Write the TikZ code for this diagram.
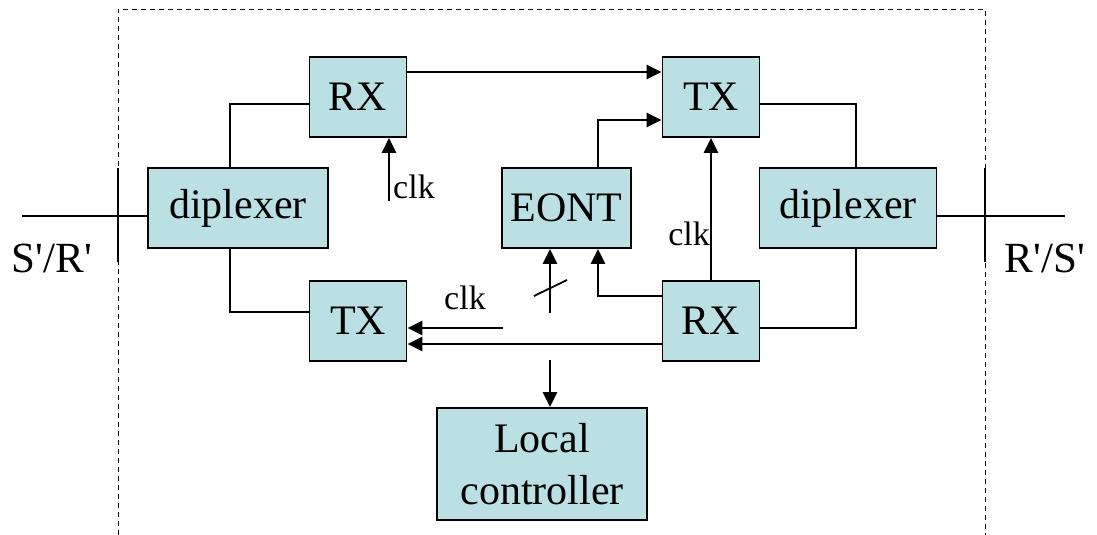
\documentclass[tikz,border=0pt]{standalone}
\usepackage{fontspec}
\setmainfont{Liberation Serif}[Ligatures=TeXOff]
\usetikzlibrary{arrows.meta}
\definecolor{boxfill}{RGB}{187,224,227}
\begin{document}
\begin{tikzpicture}[x=1pt,y=-1pt,
  blk/.style={draw=black,fill=boxfill,line width=1.8pt,inner sep=0pt,
    font=\fontsize{42}{52}\selectfont,align=center},
  wire/.style={line width=1.8pt},
  arr/.style={line width=2.8pt,-{Triangle[length=15pt,width=14pt]}},
  lbl/.style={font=\fontsize{34}{40}\selectfont,inner sep=0pt},
  big/.style={font=\fontsize{43}{50}\selectfont,inner sep=0pt},
  frame/.style={line width=0.9pt,dash pattern=on 5pt off 4pt}]
\useasboundingbox (0,0) rectangle (1097,535);
% frame
\coordinate (fbl) at (118,535);
\coordinate (ftl) at (118,9);
\coordinate (ftr) at (985,9);
\coordinate (fbr) at (985,535);
\draw[frame] (fbl) -- (ftl) -- (ftr) -- (fbr);
% blocks
\node[blk,minimum width=180pt,minimum height=80pt] (dipL) at (238,208) {diplexer};
\node[blk,minimum width=177pt,minimum height=80pt] (dipR) at (848,208) {diplexer};
\node[blk,minimum width=97pt,minimum height=80pt] (rxT) at (358,97) {RX};
\node[blk,minimum width=97pt,minimum height=80pt] (txT) at (711,97) {TX};
\node[blk,minimum width=129pt,minimum height=80pt] (eont) at (566.5,208) {EONT};
\node[blk,minimum width=97pt,minimum height=80pt] (txB) at (358,321) {TX};
\node[blk,minimum width=97pt,minimum height=80pt] (rxB) at (711,321) {RX};
\node[blk,minimum width=210pt,minimum height=112pt] (lc) at (542,464) {Local\\controller};
% outer ports
\coordinate (inL) at (22,216);
\coordinate (inR) at (1065,216);
\draw[wire] (inL) -- (inL -| dipL.west);
\draw[wire] (inR) -- (inR -| dipR.east);
\coordinate (tkLt) at (118,168);
\coordinate (tkLb) at (118,262);
\coordinate (tkRt) at (985,168);
\coordinate (tkRb) at (985,262);
\draw[wire] (tkLt) -- (tkLb);
\draw[wire] (tkRt) -- (tkRb);
\node[big,anchor=base] (sr) at (52,272) {S'/R'};
\node[big,anchor=base] (rs) at (1045,272) {R'/S'};
% plain connectors
\draw[wire] ([xshift=-8pt]dipL.north) |- ([yshift=-7pt]rxT.west);
\draw[wire] ([xshift=-8pt]dipL.south) |- ([yshift=9pt]txB.west);
\draw[wire] ([yshift=-7pt]txT.east) -| ([xshift=8pt]dipR.north);
\draw[wire] ([yshift=-7pt]rxB.east) -| ([xshift=8pt]dipR.south);
% arrows
\draw[arr] ([yshift=25pt]rxT.east) -- ([yshift=25pt]txT.west);
\draw[arr] ([xshift=31.5pt]eont.north) |- ([yshift=-23pt]txT.west);
\draw[arr] (rxB.north) -- (txT.south);
\draw[arr] ([yshift=25pt]rxB.west) -| ([xshift=31.5pt]eont.south);
\coordinate (busB) at (550,313);
\draw[arr] (busB) -- (busB |- eont.south);
\coordinate (slA) at (534,296);
\coordinate (slB) at (567,280);
\draw[wire] (slA) -- (slB);
\coordinate (clkB) at (503,328);
\draw[arr] (clkB) -- (clkB -| txB.east);
\draw[arr] ([yshift=-23pt]rxB.west) -- ([yshift=-23pt]txB.east);
\coordinate (lcT) at (550,360);
\draw[arr] (lcT) -- (lcT |- lc.north);
\coordinate (clkT) at (389,201);
\draw[arr] (clkT) -- (clkT |- rxT.south);
% clk labels
\node[lbl,anchor=base west] (c1) at (393,198) {clk};
\node[lbl,anchor=base east] (c2) at (710,245) {clk};
\node[lbl,anchor=base] (c3) at (465,309) {clk};
\end{tikzpicture}
\end{document}
